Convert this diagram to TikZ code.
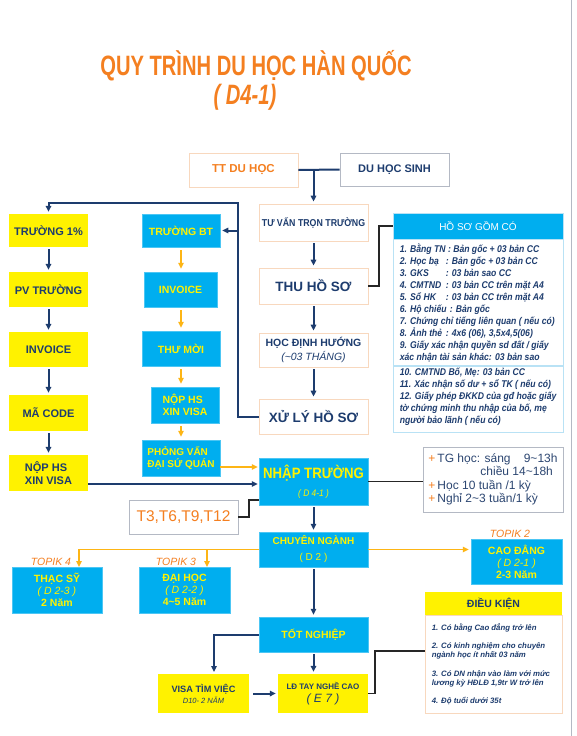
\documentclass[tikz,border=0pt]{standalone}
\usepackage{fontspec}
\setmainfont{Liberation Sans}
\newfontfamily\narrowfont[FakeStretch=0.88]{Liberation Sans}
\newfontfamily\titlefont[FakeStretch=0.72]{Liberation Sans}
\usepackage{tikz}
\usetikzlibrary{arrows.meta,positioning}
\usepackage{xcolor}
\definecolor{navy}{HTML}{1D3C6E}
\definecolor{kcyan}{HTML}{00AEEF}
\definecolor{kyellow}{HTML}{FFF200}
\definecolor{korange}{HTML}{F47F20}
\definecolor{kgold}{HTML}{FDB515}
\definecolor{peach}{HTML}{F8D8BE}
\definecolor{lblue}{HTML}{B9E2F5}
\definecolor{lgray}{HTML}{B4B9C4}
\newcommand{\fsz}[2]{\fontsize{#1}{#2}\selectfont}
\newcommand{\hslbl}[1]{\makebox[46pt][l]{#1}}
\newcommand{\plus}{\textcolor{korange}{+}\,}
\tikzstyle{basebox} = [rectangle, inner sep=2pt, align=center]
\tikzstyle{peachbox} = [basebox, draw=peach, line width=0.8pt, fill=white, text=navy, minimum width=109pt]
\tikzstyle{yellowbox} = [basebox, fill=kyellow, text=navy, font=\bfseries\fsz{11}{13}]
\tikzstyle{cyanbox} = [basebox, fill=kcyan, draw=kcyan!70, line width=0.5pt, text=kyellow, font=\bfseries\fsz{10.5}{12}]
\tikzstyle{navyline} = [draw=navy, line width=2pt]
\tikzstyle{navyarrow} = [navyline, -{Triangle[length=6pt,width=5.5pt]}, shorten <=2pt, shorten >=2pt]
\tikzstyle{goldarrow} = [draw=kgold, line width=1.7pt, -{Triangle[length=6pt,width=5.5pt]}]
\tikzstyle{blackline} = [draw=black!85, line width=1.7pt]
\tikzstyle{topik} = [text=korange, font=\itshape\fsz{10.5}{12}]
\tikzstyle{listtext} = [inner sep=0pt, align=left, text=navy]

\begin{document}
\begin{tikzpicture}[x=1pt,y=-1pt]
\fill[white] (0,0) rectangle (577,736);
\useasboundingbox (0,0) rectangle (577,736);
\draw[lgray, line width=1pt] (571,0) -- (571,736);

% title
\node[text=korange, font=\titlefont\bfseries\fsz{28}{30}] (title) at (256,66) {QUY TRÌNH DU HỌC HÀN QUỐC};
\node[text=korange, font=\titlefont\bfseries\itshape\fsz{28}{30}] (subtitle) at (245,97) {( D4-1)};

% main column
\node[peachbox, minimum height=34pt, text=korange, font=\bfseries\fsz{11.5}{13}] (tt) at (243.5,170) {TT DU HỌC};
\node[peachbox, draw=lgray, minimum height=33pt, font=\bfseries\fsz{11}{13}] (dhs) at (394.5,169.5) {DU HỌC SINH};
\node[peachbox, minimum height=37pt, font=\narrowfont\bfseries\fsz{10}{12}] (tuvan) at (313.5,222.5) {TƯ VẤN TRỌN TRƯỜNG};
\node[peachbox, minimum height=36pt, font=\bfseries\fsz{13.5}{15}] (thu) at (313.5,286) {THU HỒ SƠ};
\node[peachbox, minimum height=34pt, font=\bfseries\fsz{10.5}{14}] (hocdh) at (313.5,350) {HỌC ĐỊNH HƯỚNG\\{\mdseries\itshape(\textasciitilde03 THÁNG)}};
\node[peachbox, minimum height=35pt, font=\bfseries\fsz{13.5}{15}] (xuly) at (313.5,416.5) {XỬ LÝ HỒ SƠ};
\node[cyanbox, minimum width=109pt, minimum height=47pt, font=\narrowfont\bfseries\fsz{15}{18}] (nhap) at (313.5,481.5) {NHẬP TRƯỜNG\\{\mdseries\itshape\fsz{9.5}{11}( D 4-1 )}};
\node[cyanbox, minimum width=109pt, minimum height=35pt, font=\bfseries\fsz{10}{16}] (chuyen) at (313.5,549.5) {CHUYÊN NGÀNH\\{\mdseries ( D 2 )}};
\node[cyanbox, minimum width=109pt, minimum height=35pt, font=\bfseries\fsz{10.5}{12}] (tot) at (313.5,634.5) {TỐT NGHIỆP};
\node[yellowbox, minimum width=90pt, minimum height=39pt, font=\bfseries\fsz{8}{13}] (ld) at (323,693.5) {LĐ TAY NGHỀ CAO\\{\mdseries\itshape\fsz{12}{13}( E 7 )}};
\node[yellowbox, minimum width=91pt, minimum height=39pt, font=\bfseries\fsz{9.2}{11}] (visa) at (203.5,693.5) {VISA TÌM VIỆC\\{\mdseries\itshape\fsz{7.5}{9}D10- 2 NĂM}};

% left column
\node[yellowbox, minimum width=79pt, minimum height=33pt] (truong1) at (48.5,230.5) {TRƯỜNG 1\%};
\node[yellowbox, minimum width=79pt, minimum height=35pt] (pvtruong) at (48.5,289.5) {PV TRƯỜNG};
\node[yellowbox, minimum width=79pt, minimum height=35pt] (invoicel) at (48.5,349.5) {INVOICE};
\node[yellowbox, minimum width=79pt, minimum height=36pt] (macode) at (48.5,413) {MÃ CODE};
\node[yellowbox, minimum width=79pt, minimum height=36pt, align=left] (nophsl) at (48.5,473) {NỘP HS\\XIN VISA};

% second column
\node[cyanbox, minimum width=78pt, minimum height=33pt] (truongbt) at (181,230.5) {TRƯỜNG BT};
\node[cyanbox, minimum width=73pt, minimum height=35pt] (invoicec) at (180.5,289.5) {INVOICE};
\node[cyanbox, minimum width=78pt, minimum height=35pt] (thumoi) at (181,348.5) {THƯ MỜI};
\node[cyanbox, minimum width=68pt, minimum height=36pt, align=left] (nophsc) at (185,405) {NỘP HS\\XIN VISA};
\node[cyanbox, minimum width=78pt, minimum height=36pt, align=left, font=\bfseries\fsz{10}{12}] (phongvan) at (181,458) {PHỎNG VẤN\\ĐẠI SỨ QUÁN};

% study levels
\node[cyanbox, minimum width=90pt, minimum height=46pt] (thacsy) at (57,590) {THẠC SỸ\\{\mdseries\itshape ( D 2-3 )}\\2 Năm};
\node[cyanbox, minimum width=91pt, minimum height=46pt] (daihoc) at (184.5,590) {ĐẠI HỌC\\{\mdseries\itshape ( D 2-2 )}\\4\textasciitilde5 Năm};
\node[cyanbox, minimum width=91pt, minimum height=45pt] (caodang) at (516.5,561.5) {CAO ĐẲNG\\{\mdseries\itshape ( D 2-1 )}\\2-3 Năm};
\node[topik] (topik4) at (51,562) {TOPIK 4};
\node[topik] (topik3) at (176,562) {TOPIK 3};
\node[topik] (topik2) at (510,534) {TOPIK 2};

% side boxes
\node[draw=lgray, line width=0.8pt, minimum width=109pt, minimum height=34pt, text=korange, font=\fsz{15.5}{18}] (months) at (183.5,517) {T3,T6,T9,T12};
\node[draw=lgray, line width=0.8pt, fill=white, minimum width=140pt, minimum height=65pt, inner xsep=5pt, align=left, text=navy!85!gray, font=\fsz{12}{13.4}] (info) at (493,479.5) {\plus TG học: sáng\hspace{1.1em}9\textasciitilde13h\\\hspace*{52pt}chiều 14\textasciitilde18h\\\plus Học 10 tuần /1 kỳ\\\plus Nghỉ 2\textasciitilde3 tuần/1 kỳ};

\node[fill=kcyan, draw=lblue, line width=0.8pt, minimum width=170pt, minimum height=26pt, text=white, font=\fsz{10}{12}] (hoso) at (478,226) {HỒ SƠ GỒM CÓ};
\node[draw=lblue, line width=0.8pt, fill=white, minimum width=170pt, minimum height=126pt, anchor=north] (hsbody) at (hoso.south) {};
\node[draw=lblue, line width=0.8pt, fill=white, minimum width=170pt, minimum height=66pt, anchor=north] (hsbody2) at (hsbody.south) {};
\node[listtext, font=\narrowfont\bfseries\itshape\fsz{9.8}{12}, below right=4pt and 7pt of hsbody.north west] (hslist) {%
1. Bằng TN : Bản gốc + 03 bản CC\\
\hslbl{2. Học bạ}: Bản gốc + 03 bản CC\\
\hslbl{3. GKS}: 03 bản sao CC\\
\hslbl{4. CMTND}: 03 bản CC trên mặt A4\\
\hslbl{5. Sổ HK}: 03 bản CC trên mặt A4\\
6. Hộ chiếu\,\,: Bản gốc\\
7. Chứng chỉ tiếng liên quan ( nếu có)\\
\hslbl{8. Ảnh thẻ}: 4x6 (06), 3,5x4,5(06)\\
9. Giấy xác nhận quyền sd đất / giấy\\
xác nhận tài sản khác: 03 bản sao};
\node[listtext, font=\narrowfont\bfseries\itshape\fsz{9.8}{12}, below right=2pt and 7pt of hsbody2.north west] (hslist2) {%
10. CMTND Bố, Mẹ: 03 bản CC\\
11. Xác nhận số dư + sổ TK ( nếu có)\\
12. Giấy phép ĐKKD của gđ hoặc giấy\\
tờ chứng minh thu nhập của bố, mẹ\\
người bảo lãnh ( nếu có)};

\node[fill=kyellow, minimum width=137pt, minimum height=23pt, text=navy, font=\bfseries\fsz{10.5}{12}] (dk) at (493.5,603.5) {ĐIỀU KIỆN};
\node[draw=peach, line width=0.8pt, fill=white, minimum width=137pt, minimum height=98pt, anchor=north] (dkbody) at (dk.south) {};
\node[listtext, font=\bfseries\itshape\fsz{7.8}{9.3}, below right=8pt and 7pt of dkbody.north west] (dklist) {%
1. Có bằng Cao đẳng trở lên\\[9pt]
2. Có kinh nghiệm cho chuyên\\
ngành học ít nhất 03 năm\\[9pt]
3. Có DN nhận vào làm với mức\\
lương kỳ HĐLĐ 1,9tr W trở lên\\[9pt]
4. Độ tuổi dưới 35t};

% connectors
\coordinate (upturn) at (238,203);
\coordinate (pvlevel) at (0,467);
\coordinate (visalevel) at (0,484);
\coordinate (monthsbend) at (249,500);
\coordinate (hsbend) at (379,0);
\coordinate (thacsyin) at (79,567);
\coordinate (daihocin) at (207,567);
\coordinate (visain) at (214,674);
\coordinate (dkbend) at (375,651);

\draw[navyline] (tt.east) -- (dhs.west);
\draw[navyarrow, shorten <=0pt] (tt.east -| tuvan.north) -- (tuvan.north);
\draw[navyarrow] (tuvan) -- (thu);
\draw[navyarrow] (thu) -- (hocdh);
\draw[navyarrow] (hocdh) -- (xuly);
\draw[navyarrow] (nhap) -- (chuyen);
\draw[navyarrow] (chuyen) -- (tot);
\draw[navyarrow, shorten <=0pt] (xuly.west) -| (upturn) -| (truong1.north);
\draw[navyarrow, shorten <=0pt] (truongbt.east -| upturn) -- (truongbt.east);
\foreach \a/\b in {truong1/pvtruong, pvtruong/invoicel, invoicel/macode, macode/nophsl}
  \draw[navyarrow] (\a) -- (\b);
\foreach \a/\b in {truongbt/invoicec, invoicec/thumoi, thumoi/nophsc, nophsc/phongvan}
  \draw[goldarrow, shorten <=3pt, shorten >=3pt] (\a.south -| truongbt.south) -- (\b.north -| truongbt.south);
\draw[goldarrow, shorten >=1pt] (phongvan.east |- pvlevel) -- (nhap.west |- pvlevel);
\draw[navyarrow, shorten <=0pt, shorten >=1pt] (nophsl.east |- visalevel) -- (nhap.west |- visalevel);
\draw[blackline] (nhap.east) -- (nhap.east -| info.west);
\draw[blackline] (months.east) -| (monthsbend) -- (nhap.west |- monthsbend);
\draw[blackline] (thu.east) -| (hsbend |- hoso.west) -- (hoso.west);
\draw[goldarrow] (chuyen.west) -| (thacsyin);
\draw[goldarrow] (chuyen.west -| daihocin) -- (daihocin);
\draw[goldarrow, shorten >=2pt] (chuyen.east) -- (chuyen.east -| caodang.west);
\draw[navyarrow, shorten <=0pt] (tot.west) -| (visain);
\draw[navyarrow, shorten <=4pt] (visa.east) -- (ld.west);
\draw[navyarrow] (tot.south) -- (tot.south |- ld.north);
\draw[blackline] (ld.east) -| (dkbend) -- (dkbody.west |- dkbend);
\end{tikzpicture}
\end{document}
